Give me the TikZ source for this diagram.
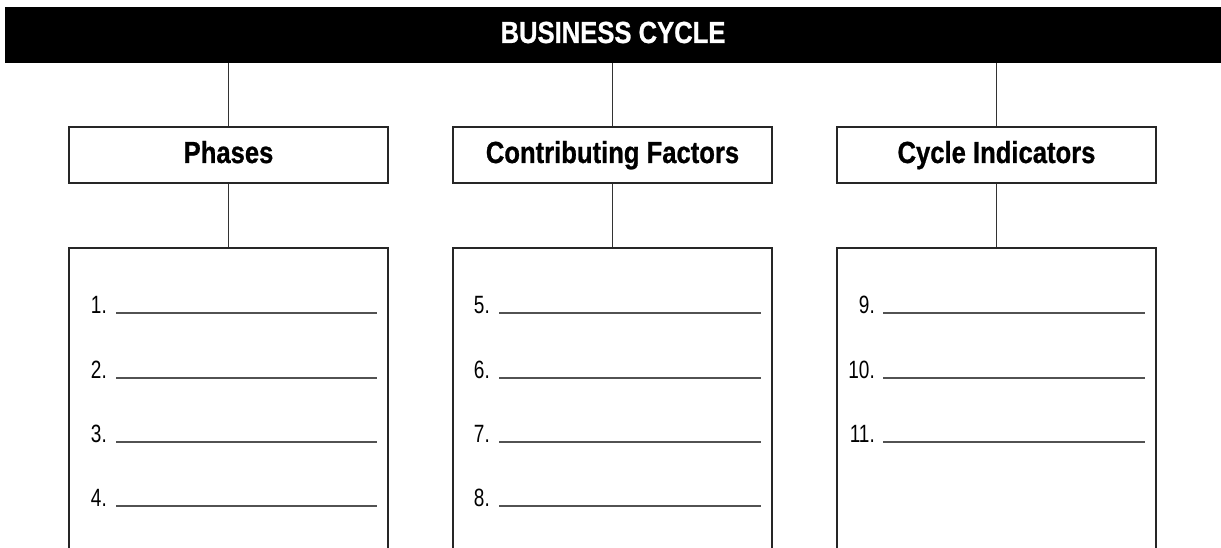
\documentclass[tikz,border=0pt]{standalone}
\usepackage{fontspec}
\setmainfont[FakeStretch=0.76]{Liberation Sans}
\newfontfamily\headfont[FakeStretch=0.84,FakeBold=0.8]{Liberation Sans Bold}
\begin{document}
\begin{tikzpicture}[x=1pt,y=-1pt,
  titlebar/.style={fill=black,draw=none,text=white,minimum width=1216pt,minimum height=56pt,inner sep=0pt,text height=21pt,text depth=5pt,font=\fontsize{30.5}{32}\headfont},
  headbox/.style={draw=black!85,line width=1.6pt,fill=white,minimum width=319pt,minimum height=56pt,inner sep=0pt,text height=21pt,text depth=5pt,font=\fontsize{30.5}{32}\headfont},
  listbox/.style={draw=black!85,line width=1.6pt,fill=white,minimum width=319pt,minimum height=330pt,inner sep=0pt},
  conn/.style={draw=black!80,line width=1.3pt},
  numlabel/.style={anchor=base east,inner sep=0pt,font=\fontsize{25}{27}\selectfont},
  blank/.style={draw=black!68,line width=2.2pt}
]
\useasboundingbox (0,0) rectangle (1221,548);
\clip (0,0) rectangle (1221,548);
\fill[white] (0,0) rectangle (1221,548);

\node[titlebar] (title) at (613,35) {BUSINESS CYCLE};

\node[headbox] (h1) at (228.5,155) {Phases};
\node[headbox] (h2) at (612.5,155) {Contributing Factors};
\node[headbox] (h3) at (996.5,155) {Cycle Indicators};

\node[listbox,anchor=north] (b1) at (228.5,247) {};
\node[listbox,anchor=north] (b2) at (612.5,247) {};
\node[listbox,anchor=north] (b3) at (996.5,247) {};

\foreach \i in {1,2,3}{
  \draw[conn] (title.south -| h\i.north) -- (h\i.north);
  \draw[conn] (h\i.south) -- (b\i.north);
}

% column 1
\foreach \n/\y in {1/313,2/378,3/442,4/506}{
  \node[numlabel] (n\n) at (107,\y) {\n.};
  \coordinate (s\n) at (116,\y);
  \coordinate (e\n) at (377,\y);
  \draw[blank] (s\n) -- (e\n);
}
% column 2
\foreach \n/\y in {5/313,6/378,7/442,8/506}{
  \node[numlabel] (n\n) at (490,\y) {\n.};
  \coordinate (s\n) at (499,\y);
  \coordinate (e\n) at (761,\y);
  \draw[blank] (s\n) -- (e\n);
}
% column 3
\foreach \n/\y in {9/313,10/378,11/442}{
  \node[numlabel] (n\n) at (875,\y) {\n.};
  \coordinate (s\n) at (883,\y);
  \coordinate (e\n) at (1145,\y);
  \draw[blank] (s\n) -- (e\n);
}
\end{tikzpicture}
\end{document}
